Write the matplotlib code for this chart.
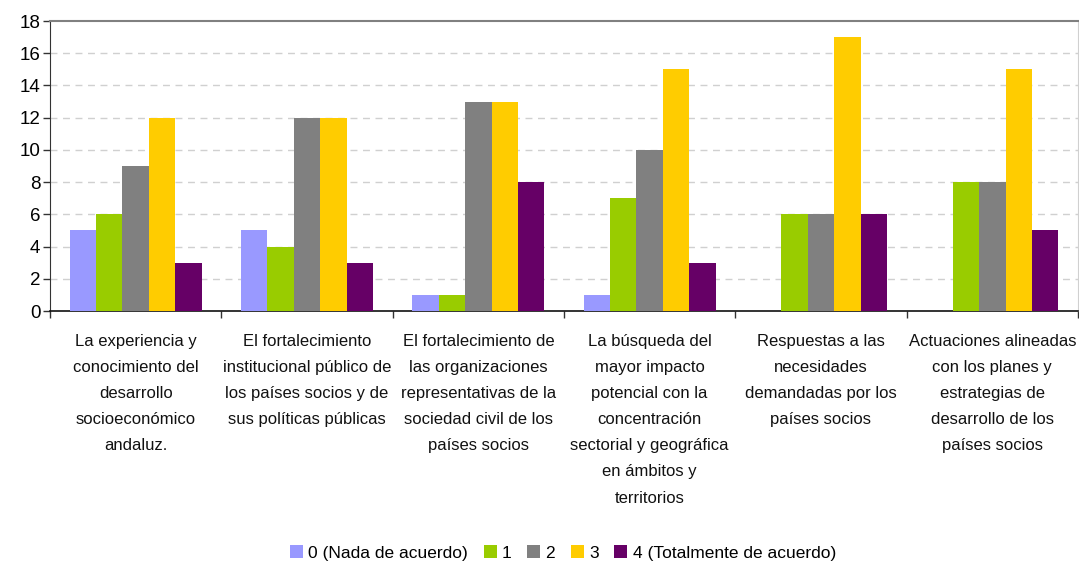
import numpy as np
import matplotlib.pyplot as plt

categorias = [
    "La experiencia y\nconocimiento del\ndesarrollo\nsocioeconómico\nandaluz.",
    "El fortalecimiento\ninstitucional público de\nlos países socios y de\nsus políticas públicas",
    "El fortalecimiento de\nlas organizaciones\nrepresentativas de la\nsociedad civil de los\npaíses socios",
    "La búsqueda del\nmayor impacto\npotencial con la\nconcentración\nsectorial y geográfica\nen ámbitos y\nterritorios",
    "Respuestas a las\nnecesidades\ndemandadas por los\npaíses socios",
    "Actuaciones alineadas\ncon los planes y\nestrategias de\ndesarrollo de los\npaíses socios",
]

series = ["0 (Nada de acuerdo)", "1", "2", "3", "4 (Totalmente de acuerdo)"]

nivel_0 = [5, 5, 1, 1, 0, 0]
nivel_1 = [6, 4, 1, 7, 6, 8]
nivel_2 = [9, 12, 13, 10, 6, 8]
nivel_3 = [12, 12, 13, 15, 17, 15]
nivel_4 = [3, 3, 8, 3, 6, 5]

colores = ["#9999FF", "#99CC00", "#808080", "#FFCC00", "#660066"]

plt.rcParams["font.family"] = ["Liberation Sans", "DejaVu Sans"]

fig = plt.figure(figsize=(10.79, 5.65), dpi=100)
ax = fig.add_axes([50 / 1079, 1 - 311 / 565, 1028 / 1079, 290 / 565])

x = np.arange(len(categorias))
ancho = 0.154
valores = [nivel_0, nivel_1, nivel_2, nivel_3, nivel_4]
for i, (vals, col, nombre) in enumerate(zip(valores, colores, series)):
    ax.bar(x + (i - 2) * ancho, vals, width=ancho, color=col, label=nombre, zorder=3)

ax.set_xlim(-0.5, len(categorias) - 0.5)
ax.set_ylim(0, 18)
ax.set_yticks(range(0, 19, 2))
ax.tick_params(axis="y", labelsize=13.5, length=5, width=1, color="#333333", pad=2)

# separadores entre categorias
ax.set_xticks(np.arange(-0.5, len(categorias), 1))
ax.set_xticklabels([])
ax.tick_params(axis="x", length=5, width=1, color="#333333")

for i, txt in enumerate(categorias):
    ax.text(i, -1.4, txt, ha="center", va="top", fontsize=12,
            linespacing=1.93, color="#111111")

# rejilla
for yv in range(2, 18, 2):
    ax.axhline(yv, color="#d0d0d0", lw=1, ls=(0, (5, 4)), zorder=1)

ax.spines["top"].set_color("#808080")
ax.spines["top"].set_linewidth(1.5)
ax.spines["right"].set_color("#d0d0d0")
ax.spines["left"].set_color("#333333")
ax.spines["bottom"].set_color("#111111")
ax.spines["bottom"].set_linewidth(1.2)

leg = fig.legend(loc="center", bbox_to_anchor=(563 / 1079, 1 - 553 / 565), ncol=5,
                 frameon=False, fontsize=12.5, handlelength=0.75, handleheight=0.75,
                 handletextpad=0.3, columnspacing=0.9, borderaxespad=0)

fig.savefig("out.png", dpi=100)
